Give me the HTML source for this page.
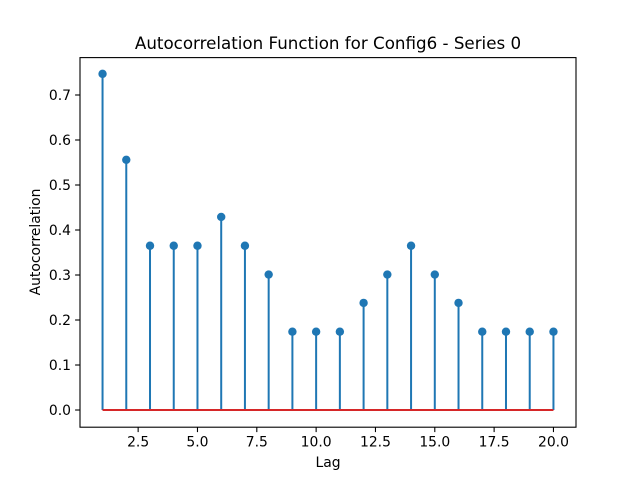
<!DOCTYPE html>
<html><head><meta charset="utf-8"><style>
body{margin:0;background:#fff;font-family:"DejaVu Sans","Liberation Sans",sans-serif}
svg text{font-family:"DejaVu Sans","Liberation Sans",sans-serif}
</style></head><body>
<svg id="chart" width="640" height="480" viewBox="0 0 640 480" xmlns="http://www.w3.org/2000/svg">
<rect width="640" height="480" fill="#fff"/>
<text x="328" y="49" text-anchor="middle" font-size="16.7">Autocorrelation Function for Config6 - Series 0</text>
<g id="plot"></g>
<rect x="80" y="57.6" width="496" height="369.6" fill="none" stroke="#000" stroke-width="1.1"/>
<text x="328" y="467" text-anchor="middle" font-size="13.9">Lag</text>
<text transform="translate(40,242) rotate(-90)" text-anchor="middle" font-size="13.9">Autocorrelation</text>
</svg>
<script>
const lags=[1,2,3,4,5,6,7,8,9,10,11,12,13,14,15,16,17,18,19,20];
const acf=[0.747,0.556,0.365,0.365,0.365,0.429,0.365,0.301,0.174,0.174,0.174,0.238,0.301,0.365,0.301,0.238,0.174,0.174,0.174,0.174];
const xTicks=[2.5,5.0,7.5,10.0,12.5,15.0,17.5,20.0];
const yTicks=[0.0,0.1,0.2,0.3,0.4,0.5,0.6,0.7];
const X0=80,X1=576,Y0=427.2,Y1=57.6;
const xmin=0.05,xmax=20.95,ymin=-0.0382,ymax=0.7831;
const xs=v=>X0+(v-xmin)/(xmax-xmin)*(X1-X0);
const ys=v=>Y0-(v-ymin)/(ymax-ymin)*(Y0-Y1);
const NS='http://www.w3.org/2000/svg';
const g=document.getElementById('plot');
function mk(t,a){const e=document.createElementNS(NS,t);for(const k in a)e.setAttribute(k,a[k]);g.appendChild(e);return e;}
xTicks.forEach(v=>{
 const l=mk('line',{x1:xs(v),x2:xs(v),y1:Y0,y2:Y0+4.9,stroke:'#000','stroke-width':1.1});
 
 
 const t=mk('text',{x:xs(v),y:Y0+19.5,'text-anchor':'middle','font-size':13.9});
 
 
 t.textContent=v.toFixed(1);
});
yTicks.forEach(v=>{
 const l=mk('line',{x1:X0-4.9,x2:X0,y1:ys(v),y2:ys(v),stroke:'#000','stroke-width':1.1});
 
 
 const t=mk('text',{x:X0-9,y:ys(v)+5,'text-anchor':'end','font-size':13.9});
 
 
 t.textContent=v.toFixed(1);
});
lags.forEach((x,i)=>{
 const l=mk('line',{x1:xs(x),x2:xs(x),y1:ys(0),y2:ys(acf[i]),stroke:'#1f77b4','stroke-width':2});
 
 
});
const b=mk('line',{x1:xs(lags[0]),x2:xs(lags[lags.length-1]),y1:ys(0),y2:ys(0),stroke:'#d62728','stroke-width':2});


lags.forEach((x,i)=>{
 const c=mk('circle',{cx:xs(x),cy:ys(acf[i]),r:4.2,fill:'#1f77b4'});
 
 
});
</script>
</body></html>
